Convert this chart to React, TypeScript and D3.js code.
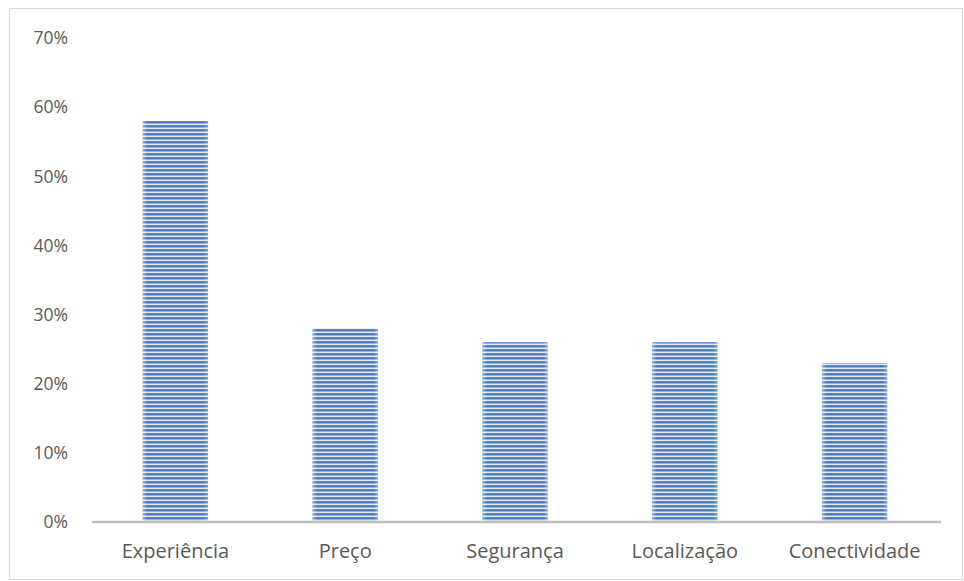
import React from "react";
import * as d3 from "d3";

const categories = ["Experiência", "Preço", "Segurança", "Localização", "Conectividade"];
const values = [0.58, 0.28, 0.26, 0.26, 0.23];
const yTicks = [0, 0.1, 0.2, 0.3, 0.4, 0.5, 0.6, 0.7];

const W = 964;
const H = 581;
const plot = { left: 92, right: 941, top: 38, bottom: 522 };
const FONT = "'Open Sans', sans-serif";

export default function App() {
  const x = d3.scaleBand<string>().domain(categories).range([plot.left, plot.right]).padding(0);
  const y = d3.scaleLinear().domain([0, 0.7]).range([plot.bottom, plot.top]);
  const barW = x.bandwidth() * 0.385;
  const fmt = d3.format(".0%");

  return (
    <svg width={W} height={H} style={{ position: "absolute", left: 0, top: 0 }}>
      <defs>
        <pattern id="stripes" width="8" height="4" patternUnits="userSpaceOnUse">
          <rect x="0" y="0" width="8" height="1" fill="#dfe8f5" />
          <rect x="0" y="1" width="8" height="1" fill="#5a89c6" />
          <rect x="0" y="2" width="8" height="1" fill="#4677b8" />
          <rect x="0" y="3" width="8" height="1" fill="#93b2dc" />
        </pattern>
        <linearGradient id="edge" x1="0" x2="1" y1="0" y2="0">
          <stop offset="0" stopColor="#ffffff" stopOpacity="0.4" />
          <stop offset="0.07" stopColor="#ffffff" stopOpacity="0" />
          <stop offset="0.93" stopColor="#ffffff" stopOpacity="0" />
          <stop offset="1" stopColor="#ffffff" stopOpacity="0.3" />
        </linearGradient>
      </defs>
      <rect x={0} y={0} width={W} height={H} fill="#ffffff" />
      <rect x={9.5} y={8.5} width={953} height={571} fill="none" stroke="#d9d9d9" strokeWidth={1} />

      {yTicks.map((t) => (
        <text
          key={t}
          x={68}
          y={y(t)}
          dy="0.36em"
          textAnchor="end"
          fontFamily={FONT}
          fontSize={17.5}
          fill="#595959"
        >
          {fmt(t)}
        </text>
      ))}

      {categories.map((c, i) => {
        const cx = (x(c) as number) + x.bandwidth() / 2 - 1.5;
        const top = y(values[i]);
        return (
          <g key={c}>
            <rect x={cx - barW / 2} y={top} width={barW} height={plot.bottom - top} fill="url(#stripes)" />
            <rect x={cx - barW / 2} y={top} width={barW} height={plot.bottom - top} fill="url(#edge)" />
            <text
              x={cx}
              y={551}
              dy="0.36em"
              textAnchor="middle"
              fontFamily={FONT}
              fontSize={20}
              fill="#595959"
            >
              {c}
            </text>
          </g>
        );
      })}

      <line x1={plot.left} x2={plot.right} y1={plot.bottom} y2={plot.bottom} stroke="#bfbfbf" strokeWidth={2.5} />
    </svg>
  );
}
